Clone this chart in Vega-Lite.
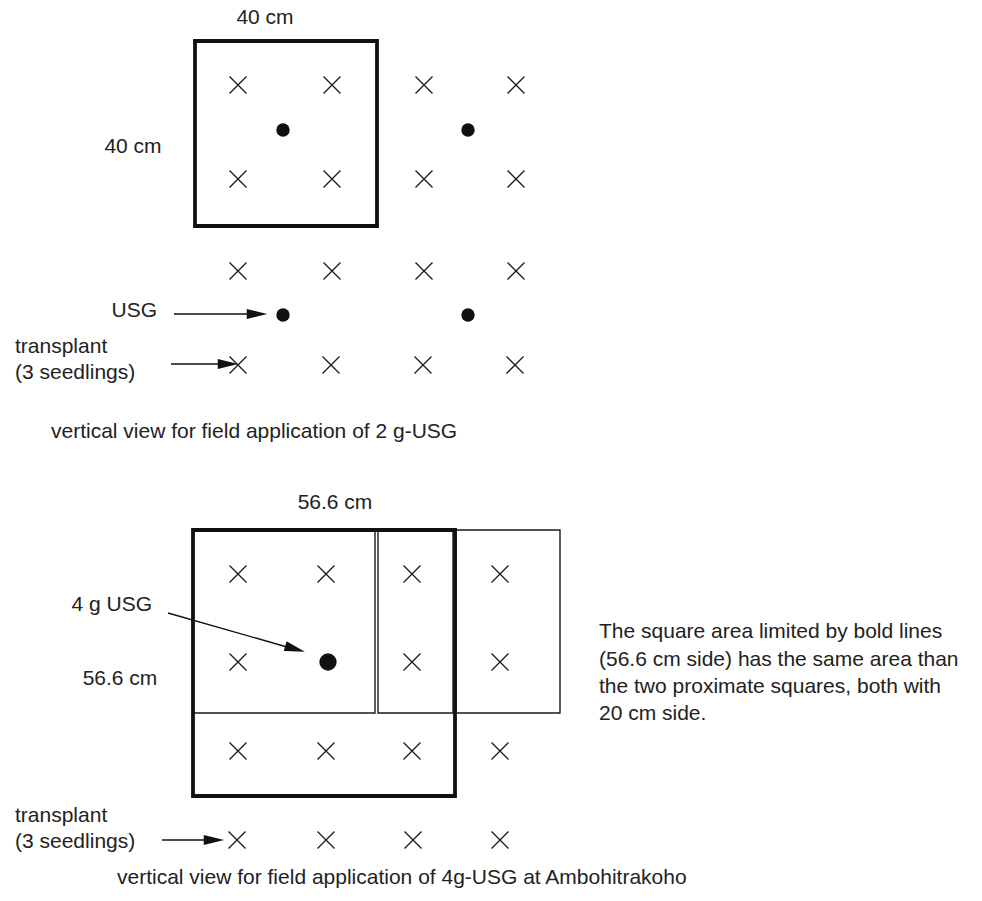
{
  "$schema": "https://vega.github.io/schema/vega-lite/v6.json",
  "width": 982,
  "height": 901,
  "padding": 0,
  "autosize": {"type": "fit", "contains": "padding"},
  "background": "white",
  "config": {"view": {"stroke": null}},
  "datasets": {
    "thinSquares": [
      {"x": 193, "x2": 375, "y": 530, "y2": 713},
      {"x": 378, "x2": 453, "y": 530, "y2": 713},
      {"x": 456, "x2": 560, "y": 530, "y2": 713}
    ],
    "boldSquares": [
      {"x": 195, "x2": 377, "y": 41, "y2": 226},
      {"x": 193, "x2": 455, "y": 530, "y2": 796}
    ],
    "transplants": [
      {"x": 238, "y": 85}, {"x": 332, "y": 85}, {"x": 424, "y": 85}, {"x": 516, "y": 85},
      {"x": 238, "y": 179}, {"x": 332, "y": 179}, {"x": 424, "y": 179}, {"x": 516, "y": 179},
      {"x": 238, "y": 271}, {"x": 332, "y": 271}, {"x": 424, "y": 271}, {"x": 516, "y": 271},
      {"x": 238, "y": 365}, {"x": 331, "y": 365}, {"x": 423, "y": 365}, {"x": 515, "y": 365},
      {"x": 238, "y": 574}, {"x": 326, "y": 574}, {"x": 412, "y": 574}, {"x": 500, "y": 574},
      {"x": 238, "y": 662}, {"x": 412, "y": 662}, {"x": 500, "y": 662},
      {"x": 238, "y": 751}, {"x": 326, "y": 751}, {"x": 412, "y": 751}, {"x": 500, "y": 751},
      {"x": 237, "y": 840}, {"x": 326, "y": 840}, {"x": 413, "y": 840}, {"x": 500, "y": 840}
    ],
    "usg": [
      {"x": 283, "y": 130, "grams": 2},
      {"x": 468, "y": 130, "grams": 2},
      {"x": 283, "y": 315, "grams": 2},
      {"x": 468, "y": 315, "grams": 2},
      {"x": 328, "y": 662, "grams": 4}
    ],
    "shafts": [
      {"x": 174, "y": 314, "x2": 250, "y2": 314},
      {"x": 171, "y": 364, "x2": 220, "y2": 364},
      {"x": 168, "y": 613, "x2": 287, "y2": 647},
      {"x": 162, "y": 840, "x2": 206, "y2": 840}
    ],
    "heads": [
      {"x": 257, "y": 314, "angle": 0},
      {"x": 228, "y": 364, "angle": 0},
      {"x": 295, "y": 649, "angle": 16},
      {"x": 214, "y": 840, "angle": 0}
    ],
    "centerLabels": [
      {"x": 265, "y": 18, "text": "40 cm"},
      {"x": 133, "y": 147, "text": "40 cm"},
      {"x": 335, "y": 503, "text": "56.6 cm"},
      {"x": 120, "y": 679, "text": "56.6 cm"}
    ],
    "rightLabels": [
      {"x": 157, "y": 311, "text": "USG"},
      {"x": 152, "y": 605, "text": "4 g USG"}
    ],
    "leftLabels": [
      {"x": 15, "y": 347, "text": "transplant"},
      {"x": 15, "y": 373, "text": "(3 seedlings)"},
      {"x": 51, "y": 432, "text": "vertical view for field application of 2 g-USG"},
      {"x": 15, "y": 816, "text": "transplant"},
      {"x": 15, "y": 842, "text": "(3 seedlings)"},
      {"x": 117, "y": 878, "text": "vertical view for field application of 4g-USG at Ambohitrakoho"},
      {"x": 599, "y": 632, "text": "The square area limited by bold lines"},
      {"x": 599, "y": 660, "text": "(56.6 cm side) has the same area  than"},
      {"x": 599, "y": 687, "text": "the two proximate squares, both with"},
      {"x": 599, "y": 714, "text": "20 cm side."}
    ]
  },
  "layer": [
    {
      "data": {"name": "thinSquares"},
      "mark": {"type": "rect", "filled": false, "stroke": "#1a1a1a", "strokeWidth": 1.4},
      "encoding": {
        "x": {"field": "x", "type": "quantitative", "scale": {"domain": [0, 982], "nice": false, "zero": false}, "axis": null},
        "x2": {"field": "x2"},
        "y": {"field": "y", "type": "quantitative", "scale": {"domain": [0, 901], "nice": false, "zero": false, "reverse": true}, "axis": null},
        "y2": {"field": "y2"}
      }
    },
    {
      "data": {"name": "boldSquares"},
      "mark": {"type": "rect", "filled": false, "stroke": "#111111", "strokeWidth": 3.8},
      "encoding": {
        "x": {"field": "x", "type": "quantitative", "axis": null},
        "x2": {"field": "x2"},
        "y": {"field": "y", "type": "quantitative", "axis": null},
        "y2": {"field": "y2"}
      }
    },
    {
      "data": {"name": "transplants"},
      "mark": {"type": "point", "shape": "M-1,-1L1,1M-1,1L1,-1", "filled": false, "stroke": "#1a1a1a", "strokeWidth": 1.3, "size": 289, "opacity": 1},
      "encoding": {
        "x": {"field": "x", "type": "quantitative", "axis": null},
        "y": {"field": "y", "type": "quantitative", "axis": null}
      }
    },
    {
      "data": {"name": "usg"},
      "mark": {"type": "point", "shape": "circle", "filled": true, "color": "#111111", "opacity": 1},
      "encoding": {
        "x": {"field": "x", "type": "quantitative", "axis": null},
        "y": {"field": "y", "type": "quantitative", "axis": null},
        "size": {"field": "grams", "type": "quantitative", "scale": {"domain": [2, 4], "range": [180, 300]}, "legend": null}
      }
    },
    {
      "data": {"name": "shafts"},
      "mark": {"type": "rule", "color": "#111111", "strokeWidth": 1.4},
      "encoding": {
        "x": {"field": "x", "type": "quantitative", "axis": null},
        "x2": {"field": "x2"},
        "y": {"field": "y", "type": "quantitative", "axis": null},
        "y2": {"field": "y2"}
      }
    },
    {
      "data": {"name": "heads"},
      "mark": {"type": "point", "shape": "M-1,-0.5L1,0L-1,0.5Z", "filled": true, "color": "#111111", "size": 420, "opacity": 1},
      "encoding": {
        "x": {"field": "x", "type": "quantitative", "axis": null},
        "y": {"field": "y", "type": "quantitative", "axis": null},
        "angle": {"field": "angle", "type": "quantitative", "scale": null}
      }
    },
    {
      "data": {"name": "centerLabels"},
      "mark": {"type": "text", "align": "center", "baseline": "middle", "font": "Liberation Sans", "fontSize": 21, "color": "#222222"},
      "encoding": {
        "x": {"field": "x", "type": "quantitative", "axis": null},
        "y": {"field": "y", "type": "quantitative", "axis": null},
        "text": {"field": "text"}
      }
    },
    {
      "data": {"name": "rightLabels"},
      "mark": {"type": "text", "align": "right", "baseline": "middle", "font": "Liberation Sans", "fontSize": 21, "color": "#222222"},
      "encoding": {
        "x": {"field": "x", "type": "quantitative", "axis": null},
        "y": {"field": "y", "type": "quantitative", "axis": null},
        "text": {"field": "text"}
      }
    },
    {
      "data": {"name": "leftLabels"},
      "mark": {"type": "text", "align": "left", "baseline": "middle", "font": "Liberation Sans", "fontSize": 21, "color": "#222222"},
      "encoding": {
        "x": {"field": "x", "type": "quantitative", "axis": null},
        "y": {"field": "y", "type": "quantitative", "axis": null},
        "text": {"field": "text"}
      }
    }
  ]
}
